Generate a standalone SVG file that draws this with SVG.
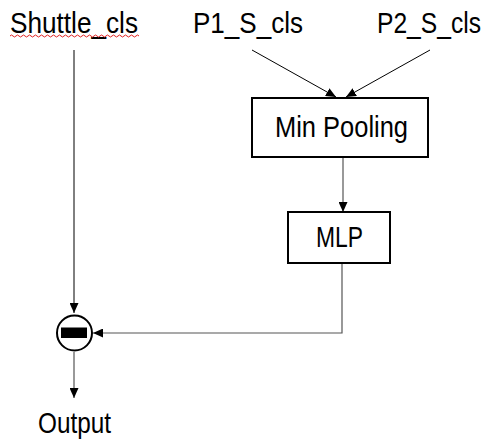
<svg xmlns="http://www.w3.org/2000/svg" width="495" height="447" viewBox="0 0 495 447">
<defs>
<marker id="ah" markerUnits="userSpaceOnUse" markerWidth="10" markerHeight="9" refX="10" refY="4.5" orient="auto">
<path d="M0,0 L10,4.5 L0,9 z" fill="#000"/>
</marker>
<style>
text{font-family:"Liberation Sans",Arial,sans-serif;font-size:29px;fill:#000}
.box{fill:#fff;stroke:#000;stroke-width:2}
.ln{fill:none;stroke:#000;stroke-width:1}
.gl{fill:none;stroke:#555;stroke-width:1.2}
</style>
</defs>
<rect width="495" height="447" fill="#fff"/>
<g id="connectors">
<line class="ln" x1="74" y1="50" x2="74" y2="313" marker-end="url(#ah)"/>
<line class="ln" x1="252" y1="50" x2="336" y2="97" marker-end="url(#ah)"/>
<line class="ln" x1="430" y1="50" x2="346" y2="97" marker-end="url(#ah)"/>
<line class="gl" x1="343" y1="158" x2="343" y2="212" marker-end="url(#ah)"/>
<polyline class="gl" points="342,264 342,333 93,333" marker-end="url(#ah)"/>
<line class="gl" x1="74" y1="352" x2="74" y2="398" marker-end="url(#ah)"/>
</g>
<g id="shuttle_cls">
<text x="10" y="33" textLength="128" lengthAdjust="spacingAndGlyphs">Shuttle_cls</text>
<path d="M10,36 q1.5,-2 3,0 t3,0 t3,0 t3,0 t3,0 t3,0 t3,0 t3,0 t3,0 t3,0 t3,0 t3,0 t3,0 t3,0 t3,0 t3,0 t3,0 t3,0 t3,0 t3,0 t3,0 t3,0 t3,0 t3,0 t3,0 t3,0 t3,0 t3,0 t3,0 t3,0 t3,0 t3,0 t3,0 t3,0 t3,0 t3,0 t3,0 t3,0 t3,0 t3,0 t3,0 t3,0 t3,0" fill="none" stroke="#e02020" stroke-width="1"/>
</g>
<g id="p1_s_cls">
<text x="193" y="33" textLength="110" lengthAdjust="spacingAndGlyphs">P1_S_cls</text>
</g>
<g id="p2_s_cls">
<text x="481" y="33" text-anchor="end" textLength="104" lengthAdjust="spacingAndGlyphs">P2_S_cls</text>
</g>
<g id="min_pooling">
<rect class="box" x="252" y="98" width="176" height="59"/>
<text x="275" y="137" textLength="133" lengthAdjust="spacingAndGlyphs">Min Pooling</text>
</g>
<g id="mlp">
<rect class="box" x="288" y="212" width="102" height="51"/>
<text x="316" y="247" textLength="47" lengthAdjust="spacingAndGlyphs">MLP</text>
</g>
<g id="subtract">
<circle cx="74.5" cy="333" r="17.5" fill="#fff" stroke="#000" stroke-width="2"/>
<rect x="61" y="327.5" width="26" height="10.5" fill="#000"/>
</g>
<g id="output">
<text x="38" y="433" textLength="73" lengthAdjust="spacingAndGlyphs">Output</text>
</g>
</svg>
